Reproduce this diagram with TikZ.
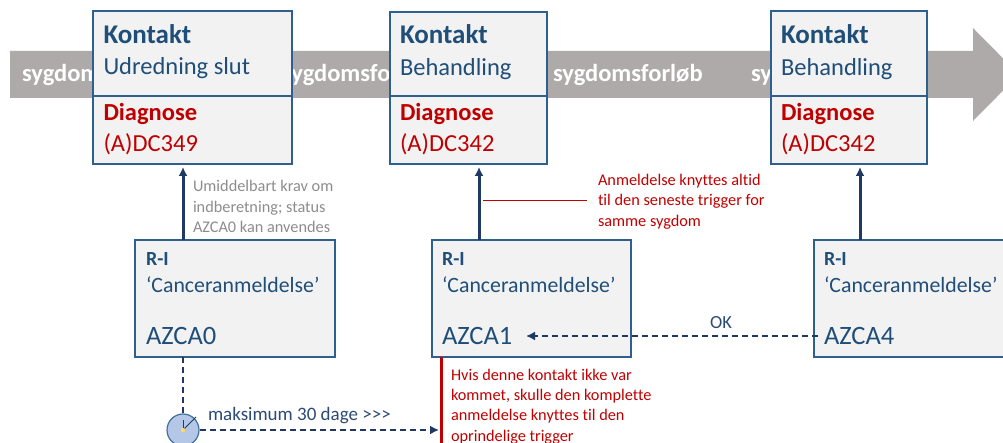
\documentclass[tikz,border=0pt]{standalone}
\usepackage{fontspec}
\setmainfont{Carlito}[Ligatures=NoCommon]
\usetikzlibrary{arrows.meta}
\definecolor{bluetxt}{HTML}{1F4E79}
\definecolor{redtxt}{HTML}{C00000}
\definecolor{boxfill}{HTML}{F2F2F2}
\definecolor{boxline}{HTML}{2F5F8F}
\definecolor{darkarrow}{HTML}{1F3864}
\definecolor{bandcol}{HTML}{AEAAAA}
\definecolor{greytxt}{HTML}{8C8C8C}
\definecolor{clockfill}{HTML}{B4C7E7}
\definecolor{clockline}{HTML}{41719C}
\definecolor{dotcol}{HTML}{FFD966}
\definecolor{labeltxt}{HTML}{2B4A75}
\newcommand{\fsz}[1]{\fontsize{#1}{#1}\selectfont}
\tikzset{
  x=1pt,y=-1pt,
  boxn/.style={draw=boxline,fill=boxfill,line width=1.2pt,anchor=north west,inner sep=0pt,outer sep=0pt},
  txt/.style={anchor=base west,inner sep=0pt,outer sep=0pt},
  bandtxt/.style={txt,text=white,font=\fsz{24.5}\bfseries},
  kont/.style={txt,text=bluetxt,font=\fsz{27}\bfseries},
  kontsub/.style={txt,text=bluetxt,font=\fsz{24.5}},
  diag/.style={txt,text=redtxt,font=\fsz{24.5}\bfseries},
  diagsub/.style={txt,text=redtxt,font=\fsz{24.5}},
  rihead/.style={txt,text=bluetxt,font=\fsz{20}\bfseries},
  risub/.style={txt,text=bluetxt,font=\fsz{21.8}},
  riaz/.style={txt,text=bluetxt,font=\fsz{26.5}},
  note/.style={txt,font=\fsz{16.3}},
  solidarrow/.style={draw=darkarrow,line width=3pt,-{Latex[length=9pt,width=9pt]},shorten >=3pt},
  dasharrow/.style={draw=darkarrow,line width=2pt,dash pattern=on 6pt off 4pt,-{Latex[length=9pt,width=9pt]}},
}
\begin{document}
\begin{tikzpicture}
\useasboundingbox (0,0) rectangle (1003,443);
\clip (0,0) rectangle (1003,443);
% band
\fill[bandcol] (10,51) -- (973,51) -- (973,28) -- (1019,74.5) -- (973,121) -- (973,98) -- (10,98) -- cycle;
\node[bandtxt] (b1) at (22,82) {sygdomsforløb};
\node[bandtxt] (b2) at (282,82) {sygdomsforløb};
\node[bandtxt] (b3) at (553,82) {sygdomsforløb};
\node[bandtxt] (b4) at (751,82) {sygdomsforløb};
% contact boxes
\node[boxn,minimum width=199pt,minimum height=85pt] (k1) at (93,11) {};
\node[boxn,minimum width=199pt,minimum height=68pt] (d1) at (93,96) {};
\node[boxn,minimum width=157pt,minimum height=84pt] (k2) at (390,12) {};
\node[boxn,minimum width=157pt,minimum height=68pt] (d2) at (390,96) {};
\node[boxn,minimum width=156pt,minimum height=85pt] (k3) at (771,11) {};
\node[boxn,minimum width=156pt,minimum height=68pt] (d3) at (771,96) {};
\node[kont] (k1a) at (103.5,43.5) {Kontakt};
\node[kontsub] (k1b) at (103.5,74.5) {Udredning slut};
\node[diag] (d1a) at (103.5,120.5) {Diagnose};
\node[diagsub] (d1b) at (103.5,152) {(A)DC349};
\node[kont] (k2a) at (400,44) {Kontakt};
\node[kontsub] (k2b) at (400,75.5) {Behandling};
\node[diag] (d2a) at (400,121) {Diagnose};
\node[diagsub] (d2b) at (400,152) {(A)DC342};
\node[kont] (k3a) at (781,43.5) {Kontakt};
\node[kontsub] (k3b) at (781,75.5) {Behandling};
\node[diag] (d3a) at (781,121) {Diagnose};
\node[diagsub] (d3b) at (781,152) {(A)DC342};
% R-I boxes
\node[boxn,minimum width=200pt,minimum height=117pt] (ra) at (135,240) {};
\node[boxn,minimum width=199pt,minimum height=117pt] (rb) at (432,240) {};
\node[boxn,minimum width=200pt,minimum height=117pt] (rc) at (814,240) {};
\node[rihead] (ra1) at (146,266) {R-I};
\node[risub] (ra2) at (146,293) {‘Canceranmeldelse’};
\node[riaz] (ra3) at (146,344) {AZCA0};
\node[rihead] (rb1) at (442,266) {R-I};
\node[risub] (rb2) at (442,293) {‘Canceranmeldelse’};
\node[riaz] (rb3) at (442,344) {AZCA1};
\node[rihead] (rc1) at (824,266) {R-I};
\node[risub] (rc2) at (824,293) {‘Canceranmeldelse’};
\node[riaz] (rc3) at (824,344) {AZCA4};
% vertical arrows
\coordinate (xa) at (183,0);
\coordinate (xb) at (479,0);
\coordinate (xc) at (860,0);
\draw[solidarrow] (ra.north -| xa) -- (d1.south -| xa);
\draw[solidarrow] (rb.north -| xb) -- (d2.south -| xb);
\draw[solidarrow] (rc.north -| xc) -- (d3.south -| xc);
% notes
\node[note,text=greytxt] (n1a) at (193,192) {Umiddelbart krav om};
\node[note,text=greytxt] (n1b) at (193,212.5) {indberetning; status};
\node[note,text=greytxt] (n1c) at (193,233) {AZCA0 kan anvendes};
\node[note,text=redtxt] (n2a) at (598,186) {Anmeldelse knyttes altid};
\node[note,text=redtxt] (n2b) at (598,206) {til den seneste trigger for};
\node[note,text=redtxt] (n2c) at (598,227) {samme sygdom};
\coordinate (nl) at (483,201);
\coordinate (nr) at (587,201);
\draw[draw=redtxt,line width=1pt] (nl) -- (nr);
\node[note,text=redtxt] (n3a) at (451,380) {Hvis denne kontakt ikke var};
\node[note,text=redtxt] (n3b) at (451,400) {kommet, skulle den komplette};
\node[note,text=redtxt] (n3c) at (451,420) {anmeldelse knyttes til den};
\node[note,text=redtxt] (n3d) at (451,441) {oprindelige trigger};
% red vertical
\coordinate (rr) at (441,444);
\draw[draw=redtxt,line width=3pt] (rb.south -| rr) -- (rr);
% OK arrow
\coordinate (oks) at (818,336);
\coordinate (oke) at (526,336);
\draw[dasharrow] (oks) -- (oke);
\node[txt,text=labeltxt,font=\fsz{18.5}] (ok) at (710,328) {OK};
% clock
\node[circle,draw=clockline,fill=clockfill,line width=1.2pt,minimum size=32pt,inner sep=0pt] (clk) at (183,430) {};
\draw[dasharrow,-] (ra.south -| clk) -- (clk.north);
\draw[draw=darkarrow,line width=1pt] (clk.center) -- ++(0,-10);
\draw[draw=darkarrow,line width=1pt] (clk.center) -- ++(13,-13);
\fill[dotcol] (clk.center) circle (2.2);
\draw[dasharrow,shorten >=2pt] (clk.east) -- (clk.east -| rr);
\node[txt,text=labeltxt,font=\fsz{19}] (mx) at (208,420.5) {maksimum 30 dage >{}>{}>};
\end{tikzpicture}
\end{document}
